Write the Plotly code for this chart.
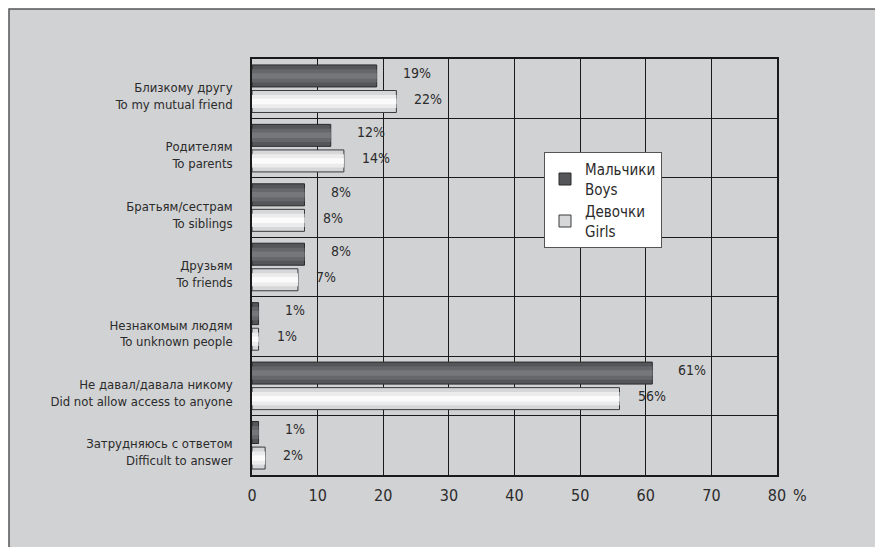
import plotly.graph_objects as go

categories = [
    "Близкому другу<br>To my mutual friend",
    "Родителям<br>To parents",
    "Братьям/сестрам<br>To siblings",
    "Друзьям<br>To friends",
    "Незнакомым людям<br>To unknown people",
    "Не давал/давала никому<br>Did not allow access to anyone",
    "Затрудняюсь с ответом<br>Difficult to answer",
]
boys = [19, 12, 8, 8, 1, 61, 1]
girls = [22, 14, 8, 7, 1, 56, 2]
x_ticks = [0, 10, 20, 30, 40, 50, 60, 70, 80]

FONT = "DejaVu Sans Condensed"
W, H = 875, 547
L, R, T, B = 252, 98, 59, 72
PW, PH = W - L - R, H - T - B

fig = go.Figure()

BW = 0.37
fig.add_trace(go.Bar(y=categories, x=boys, orientation="h", name="Мальчики<br>Boys",
                     width=BW, offset=-0.40,
                     marker=dict(color="#555659", line=dict(color="#2a2a2c", width=1))))
fig.add_trace(go.Bar(y=categories, x=boys, orientation="h", showlegend=False, hoverinfo="skip",
                     width=BW * 0.6, offset=-0.40 + BW * 0.2,
                     marker=dict(color="#66676a", line=dict(width=0))))
fig.add_trace(go.Bar(y=categories, x=boys, orientation="h", showlegend=False, hoverinfo="skip",
                     width=BW * 0.25, offset=-0.40 + BW * 0.375,
                     marker=dict(color="#76777a", line=dict(width=0))))
fig.add_trace(go.Bar(y=categories, x=girls, orientation="h", name="Девочки<br>Girls",
                     width=BW, offset=0.03,
                     marker=dict(color="#d6d7d9", line=dict(color="#3a3a3c", width=1))))
fig.add_trace(go.Bar(y=categories, x=girls, orientation="h", showlegend=False, hoverinfo="skip",
                     width=BW * 0.6, offset=0.03 + BW * 0.2,
                     marker=dict(color="#ececed", line=dict(width=0))))
fig.add_trace(go.Bar(y=categories, x=girls, orientation="h", showlegend=False, hoverinfo="skip",
                     width=BW * 0.25, offset=0.03 + BW * 0.375,
                     marker=dict(color="#fbfbfb", line=dict(width=0))))

for i, c in enumerate(categories):
    fig.add_annotation(x=boys[i], y=c, text=f"{boys[i]}%", showarrow=False,
                       xanchor="left", xshift=24, yshift=16,
                       font=dict(family=FONT, size=14, color="#2b2b2b"))
    fig.add_annotation(x=girls[i], y=c, text=f"{girls[i]}%", showarrow=False,
                       xanchor="left", xshift=16, yshift=-10,
                       font=dict(family=FONT, size=14, color="#2b2b2b"))

fig.add_annotation(xref="paper", yref="paper", x=1, y=0, text="%", showarrow=False,
                   xanchor="left", yanchor="top", xshift=14, yshift=-9,
                   font=dict(family=FONT, size=16, color="#2b2b2b"))

fig.add_shape(type="rect", xref="paper", yref="paper",
              x0=(9 - L) / PW, x1=(W + 20 - L) / PW,
              y0=-(B + 20) / PH, y1=(H - B - 9) / PH,
              line=dict(color="#555", width=1.5), fillcolor="#d1d2d4", layer="below")

fig.update_layout(
    width=W, height=H,
    margin=dict(l=L, r=R, t=T, b=B),
    paper_bgcolor="white",
    plot_bgcolor="#bdbec1",
    barmode="overlay",
    font=dict(family=FONT, size=14, color="#2b2b2b"),
    legend=dict(x=(544 - L) / PW, y=(H - B - 152) / PH,
                xanchor="left", yanchor="top",
                bgcolor="white", bordercolor="#555", borderwidth=1,
                font=dict(family=FONT, size=15, color="#2b2b2b"),
                entrywidth=110, entrywidthmode="pixels",
                tracegroupgap=14, traceorder="normal"),
    showlegend=True,
)
fig.update_xaxes(range=[0, 80], tickvals=x_ticks, showgrid=True, gridcolor="#1a1a1a", gridwidth=1,
                 showline=True, linecolor="#1a1a1a", linewidth=1.5, mirror=True,
                 ticks="outside", ticklen=5, tickcolor="rgba(0,0,0,0)",
                 tickfont=dict(family=FONT, size=16, color="#2b2b2b"), zeroline=False)
fig.update_yaxes(autorange="reversed", type="category", tickson="boundaries",
                 showgrid=True, gridcolor="#1a1a1a", gridwidth=1,
                 showline=True, linecolor="#1a1a1a", linewidth=1.5, mirror=True,
                 ticks="", ticklabelstandoff=15, ticklabelshift=-7,
                 tickfont=dict(family=FONT, size=13, color="#2b2b2b"))

fig.write_html("out.html", post_script="document.body.style.margin='0';",
               config={"displayModeBar": False})
